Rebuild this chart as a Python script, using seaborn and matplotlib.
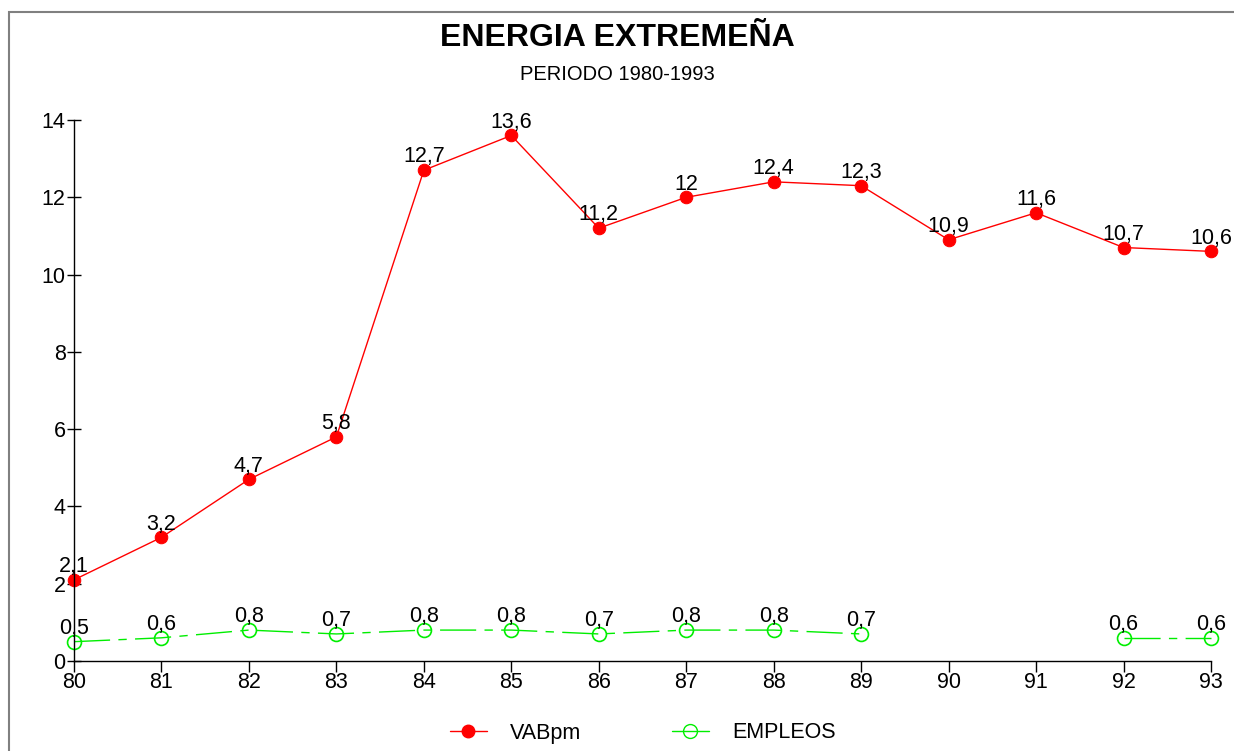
import numpy as np
import matplotlib
matplotlib.use("Agg")
import matplotlib.pyplot as plt
import matplotlib.patches as mpatches
from matplotlib.lines import Line2D
import pandas as pd
import seaborn as sns

years = [80, 81, 82, 83, 84, 85, 86, 87, 88, 89, 90, 91, 92, 93]
vabpm = [2.1, 3.2, 4.7, 5.8, 12.7, 13.6, 11.2, 12.0, 12.4, 12.3, 10.9, 11.6, 10.7, 10.6]
empleos = [0.5, 0.6, 0.8, 0.7, 0.8, 0.8, 0.7, 0.8, 0.8, 0.7, np.nan, np.nan, 0.6, 0.6]
yticks = [0, 2, 4, 6, 8, 10, 12, 14]

sns.set_style("white")
plt.rcParams["font.family"] = ["Liberation Sans", "DejaVu Sans"]
plt.rcParams["text.color"] = "black"
plt.rcParams["xtick.color"] = "black"
plt.rcParams["ytick.color"] = "black"

def fmt(v):
    s = f"{v:g}"
    return s.replace(".", ",")

df = pd.DataFrame({"year": years, "VABpm": vabpm, "EMPLEOS": empleos})

# tramos continuos de EMPLEOS (hay huecos en 90 y 91)
df["seg"] = df["EMPLEOS"].isna().cumsum()

fig = plt.figure(figsize=(12.34, 7.51), dpi=100)
ax = fig.add_axes([74 / 1234, 1 - 661 / 751, (1211 - 74) / 1234, (661 - 120) / 751])

red = "#ff0000"
green = "#00ee00"

sns.lineplot(
    data=df, x="year", y="VABpm", ax=ax,
    color=red, linewidth=1, marker="o", markersize=9,
    markeredgecolor=red, markerfacecolor=red
)

emp = df.dropna(subset=["EMPLEOS"])
for _, part in emp.groupby("seg"):
    sns.lineplot(
        data=part, x="year", y="EMPLEOS", ax=ax,
        color=green, linewidth=1, marker="o", markersize=10,
        markerfacecolor="none", markeredgecolor=green, markeredgewidth=1.2
    )
for i, line in enumerate(ax.lines):
    line.set_clip_on(False)
    if i > 0:
        line.set_dashes((26, 6, 6, 6))

for x, v in zip(years, vabpm):
    ax.annotate(fmt(v), (x, v), xytext=(0, 2), textcoords="offset points",
                ha="center", va="bottom", fontsize=15.5, annotation_clip=False)
for x, v in zip(years, empleos):
    if not np.isnan(v):
        ax.annotate(fmt(v), (x, v), xytext=(0, 2), textcoords="offset points",
                    ha="center", va="bottom", fontsize=15.5, annotation_clip=False)

ax.set_xlim(80, 93)
ax.set_ylim(0, 14)
ax.set_xticks(years)
ax.set_yticks(yticks)
ax.set_xlabel("")
ax.set_ylabel("")
for s in ["top", "right"]:
    ax.spines[s].set_visible(False)
for s in ["left", "bottom"]:
    ax.spines[s].set_color("black")
    ax.spines[s].set_linewidth(1)
ax.tick_params(axis="x", direction="out", length=8, width=1, labelsize=15.5, pad=0, bottom=True)
ax.tick_params(axis="y", direction="inout", length=10, width=1, labelsize=15.5, pad=1, left=True)

fig.text(0.5, 1 - 38 / 751, "ENERGIA EXTREMEÑA", ha="center", va="center",
         fontsize=23, fontweight="bold")
fig.text(0.5, 1 - 75 / 751, "PERIODO 1980-1993", ha="center", va="center",
         fontsize=14.5)

handles = [
    Line2D([], [], color=red, linewidth=1, marker="o", markersize=9,
           markerfacecolor=red, markeredgecolor=red),
    Line2D([], [], color=green, linewidth=1, marker="o", markersize=10,
           markerfacecolor="none", markeredgecolor=green),
]
fig.legend(handles, ["VABpm", "EMPLEOS"], loc="center",
           bbox_to_anchor=(0.521, 1 - 733 / 751), ncol=2, frameon=False,
           fontsize=15.5, handlelength=1.7, handletextpad=1.1, columnspacing=4.2)

border = mpatches.Rectangle((9 / 1234, -0.05), 1.1, 1 - 12 / 751 + 0.05,
                            transform=fig.transFigure, fill=False,
                            edgecolor="#808080", linewidth=1.5, clip_on=False)
fig.add_artist(border)

plt.savefig("out.png", dpi=100)
plt.close()
